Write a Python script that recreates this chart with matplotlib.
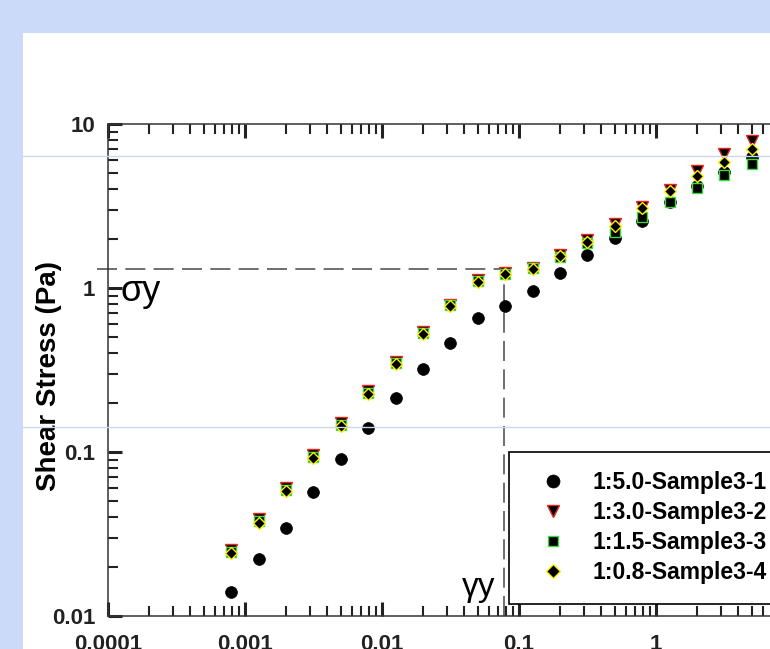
import numpy as np
import matplotlib
matplotlib.use('Agg')
import matplotlib.pyplot as plt
from matplotlib.patches import Rectangle
from matplotlib.lines import Line2D
from matplotlib.ticker import LogLocator, FuncFormatter, NullFormatter

plt.rcParams['font.family'] = ['Liberation Sans', 'DejaVu Sans']
plt.rcParams['font.weight'] = 'bold'

# shear strain, one point every 0.2 decade
strain = [0.000794, 0.00126, 0.002, 0.00316, 0.005, 0.00794, 0.0126, 0.02, 0.0316, 0.05,
          0.0794, 0.126, 0.2, 0.316, 0.5, 0.794, 1.26, 2.0, 3.16, 5.01]

# shear stress (Pa) of each sample
s1 = [0.0141, 0.0222, 0.0345, 0.0573, 0.0902, 0.141, 0.214, 0.319, 0.464, 0.653,
      0.780, 0.959, 1.23, 1.59, 2.01, 2.57, 3.34, 4.19, 5.12, 6.32]
s2 = [0.0252, 0.0388, 0.0602, 0.0958, 0.151, 0.236, 0.356, 0.540, 0.79, 1.12,
      1.23, 1.33, 1.60, 1.96, 2.46, 3.14, 3.96, 5.19, 6.53, 7.87]
s3 = [0.0245, 0.0378, 0.0585, 0.093, 0.147, 0.23, 0.35, 0.53, 0.79, 1.11,
      1.22, 1.32, 1.55, 1.88, 2.20, 2.71, 3.36, 4.06, 4.89, 5.68]
s4 = [0.0241, 0.0371, 0.0578, 0.0916, 0.144, 0.226, 0.344, 0.522, 0.776, 1.09,
      1.21, 1.30, 1.57, 1.91, 2.40, 3.06, 3.90, 4.82, 5.84, 7.01]

names = ['1:5.0-Sample3-1', '1:3.0-Sample3-2', '1:1.5-Sample3-3', '1:0.8-Sample3-4']

# yield point
yield_strain = 0.0781
yield_stress = 1.306

fig = plt.figure(figsize=(7.7, 6.49), dpi=100)
fig.patch.set_facecolor('#CADAF8')
fig.add_artist(Rectangle((23 / 770, 0), 1, 1 - 33 / 649, transform=fig.transFigure,
                         facecolor='white', edgecolor='none', zorder=-1))

ax = fig.add_axes([108 / 770, 1 - 616 / 649, 822 / 770, 492 / 649])
ax.set_xscale('log')
ax.set_yscale('log')
ax.set_xlim(1e-4, 100)
ax.set_ylim(0.01, 10)

# dashed guide lines for the yield point
ax.plot([8.3e-5, yield_strain], [yield_stress, yield_stress], ls=(0, (12, 5)),
        color='#555555', lw=1.2, clip_on=False, zorder=1.5)
ax.plot([yield_strain, yield_strain], [0.01, yield_stress], ls=(0, (12, 5)),
        color='#555555', lw=1.2, zorder=1.5)

ax.plot(strain, s1, 'o', ms=8.5, mfc='black', mec='black', mew=0.5, label=names[0])
ax.plot(strain, s2, 'v', ms=8, mfc='black', mec='#E8231A', mew=1.0, label=names[1])
ax.plot(strain, s3, 's', ms=6.5, mfc='black', mec='#3FD83F', mew=1.0, label=names[2])
ax.plot(strain, s4, 'D', ms=6.3, mfc='black', mec='#FFF200', mew=1.0, label=names[3])

ax.xaxis.set_major_locator(LogLocator(base=10, numticks=20))
ax.xaxis.set_minor_locator(LogLocator(base=10, subs=np.arange(2, 10), numticks=20))
ax.yaxis.set_major_locator(LogLocator(base=10, numticks=20))
ax.yaxis.set_minor_locator(LogLocator(base=10, subs=np.arange(2, 10), numticks=20))
fmt = FuncFormatter(lambda v, p: '%g' % v)
ax.xaxis.set_major_formatter(fmt)
ax.yaxis.set_major_formatter(fmt)
ax.xaxis.set_minor_formatter(NullFormatter())
ax.yaxis.set_minor_formatter(NullFormatter())

ax.tick_params(which='both', direction='in', top=True, right=True, colors='#222222',
               labelsize=16)
ax.tick_params(which='major', length=10, width=2.2)
ax.tick_params(which='minor', length=7, width=1.5)
ax.tick_params(axis='x', pad=13)
ax.tick_params(axis='y', pad=9)
for sp in ax.spines.values():
    sp.set_linewidth(1.1)
    sp.set_color('#333333')

leg = ax.legend(loc='upper left', bbox_to_anchor=(509 / 770, 1 - 452 / 649),
                bbox_transform=fig.transFigure, borderaxespad=0, fancybox=False,
                edgecolor='black', framealpha=1, prop={'weight': 'bold', 'size': 16.5},
                handlelength=2.1, handletextpad=0.7, borderpad=0.85, labelspacing=0.30,
                numpoints=1, markerscale=1.1)
leg.get_frame().set_linewidth(1.2)

fig.text(49 / 770, 1 - 376 / 649, 'Shear Stress (Pa)', rotation=90, ha='center',
         va='center', fontsize=20, fontweight='bold')
fig.text(120 / 770, 1 - 301 / 649, 'σy', fontsize=26, fontweight='normal',
         ha='left', va='baseline')
fig.text(462 / 770, 1 - 596 / 649, 'γy', fontsize=24, fontweight='normal',
         ha='left', va='baseline')

# faint slide guide lines
for gy in [156, 427]:
    fig.add_artist(Line2D([23 / 770, 1], [1 - gy / 649, 1 - gy / 649],
                          transform=fig.transFigure, color='#C9D7F4', lw=1, zorder=5))

fig.savefig('out.png', dpi=100, facecolor=fig.get_facecolor())
